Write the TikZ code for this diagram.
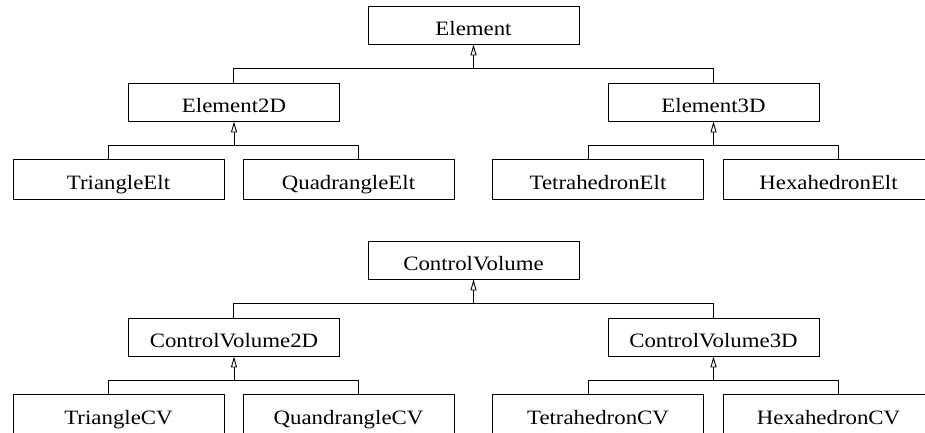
\documentclass[tikz,border=0pt]{standalone}
\usepackage{fontspec}
\setmainfont[FakeStretch=1.12]{Liberation Serif}
\usetikzlibrary{arrows.meta,calc}
\begin{document}
\begin{tikzpicture}[x=1pt,y=1pt,
  cls/.style={draw, line width=0.9pt, inner sep=0pt, minimum width=211pt,
    text height=21pt, text depth=0pt,
    font=\fontsize{20.4}{24}\selectfont},
  mid/.style={cls, minimum height=38pt},
  leaf/.style={cls, minimum height=40pt},
  link/.style={line width=0.9pt},
  inh/.style={line width=0.9pt, -{Triangle[open, length=11pt, width=6pt]}}]
\useasboundingbox (0,0) rectangle (925,-433);
\clip (0,0) rectangle (925,-433);
% ---- Element hierarchy
\node[mid]  (E)   at (473.5,-25)  {Element};
\node[mid]  (E2)  at (234,-102)   {Element2D};
\node[mid]  (E3)  at (713.5,-102) {Element3D};
\node[leaf] (TE)  at (118.5,-179) {TriangleElt};
\node[leaf] (QE)  at (348.5,-179) {QuadrangleElt};
\node[leaf] (TtE) at (598,-179)   {TetrahedronElt};
\node[leaf] (HE)  at (828.5,-179) {HexahedronElt};
\coordinate (jE)  at ($(E.south)+(0,-24)$);
\coordinate (jE2) at ($(E2.south)+(0,-24)$);
\coordinate (jE3) at ($(E3.south)+(0,-24)$);
\draw[link] ([xshift=-1pt]E2.north) |- (jE) -| ([xshift=-0.5pt]E3.north);
\draw[inh] (jE) -- (E.south);
\draw[link] ([xshift=-10.5pt]TE.north) |- (jE2) -| ([xshift=9.5pt]QE.north);
\draw[inh] (jE2) -- (E2.south);
\draw[link] ([xshift=-10pt]TtE.north) |- (jE3) -| ([xshift=9.5pt]HE.north);
\draw[inh] (jE3) -- (E3.south);
% ---- ControlVolume hierarchy
\node[mid]  (C)   at (473.5,-260) {ControlVolume};
\node[mid]  (C2)  at (234,-337)   {ControlVolume2D};
\node[mid]  (C3)  at (713.5,-337) {ControlVolume3D};
\node[leaf] (TC)  at (118.5,-414) {TriangleCV};
\node[leaf] (QC)  at (348.5,-414) {QuandrangleCV};
\node[leaf] (TtC) at (598,-414)   {TetrahedronCV};
\node[leaf] (HC)  at (828.5,-414) {HexahedronCV};
\coordinate (jC)  at ($(C.south)+(0,-24)$);
\coordinate (jC2) at ($(C2.south)+(0,-24)$);
\coordinate (jC3) at ($(C3.south)+(0,-24)$);
\draw[link] ([xshift=-1pt]C2.north) |- (jC) -| ([xshift=-0.5pt]C3.north);
\draw[inh] (jC) -- (C.south);
\draw[link] ([xshift=-10.5pt]TC.north) |- (jC2) -| ([xshift=9.5pt]QC.north);
\draw[inh] (jC2) -- (C2.south);
\draw[link] ([xshift=-10pt]TtC.north) |- (jC3) -| ([xshift=9.5pt]HC.north);
\draw[inh] (jC3) -- (C3.south);
\end{tikzpicture}
\end{document}
